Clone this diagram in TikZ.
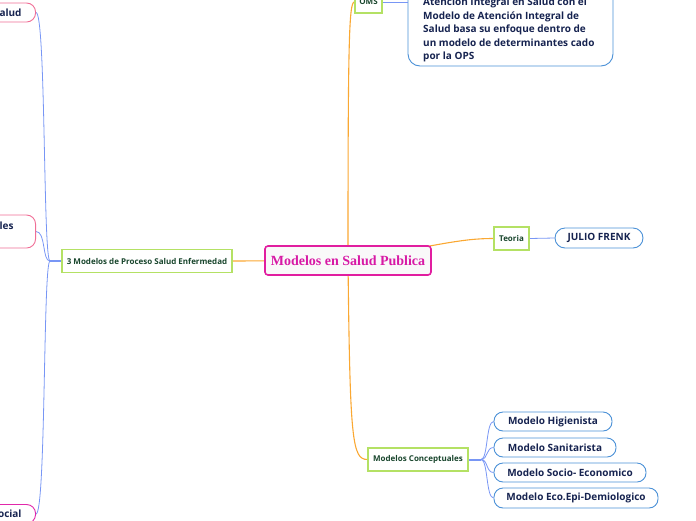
\documentclass[tikz,border=0pt]{standalone}
\usepackage{fontspec}
\setmainfont{Open Sans}
\newfontfamily\serifb{Liberation Serif}
\usetikzlibrary{fit,backgrounds}
\definecolor{orangeL}{RGB}{250,168,50}
\definecolor{blueL}{RGB}{120,150,245}
\definecolor{blueB}{RGB}{75,145,215}
\definecolor{navyT}{RGB}{22,35,80}
\definecolor{greenB}{RGB}{180,225,100}
\definecolor{greenT}{RGB}{25,70,45}
\definecolor{pinkB}{RGB}{240,110,150}
\definecolor{magB}{RGB}{225,40,170}
\definecolor{mainB}{RGB}{225,30,160}
\definecolor{mainT}{RGB}{215,25,165}
\definecolor{mainF}{RGB}{249,249,249}
\tikzset{
  mainnode/.style={draw=mainB, line width=1.6pt, rounded corners=3pt, fill=mainF, text=mainT,
    font=\serifb\bfseries\fontsize{14}{16}\selectfont, minimum width=166pt, minimum height=29pt, inner sep=0pt},
  greenbox/.style={draw=greenB, line width=1.1pt, fill=white, text=greenT,
    font=\bfseries\fontsize{8}{9.5}\selectfont, minimum height=23pt, inner sep=0pt},
  bluebox/.style={draw=blueB, line width=0.9pt, rounded corners=9pt, fill=white, text=navyT,
    font=\bfseries\fontsize{10}{12}\selectfont, minimum height=19pt, inner sep=0pt},
  pinkbox/.style={draw=pinkB, line width=0.9pt, rounded corners=9pt, fill=white, text=navyT,
    font=\bfseries\fontsize{10}{12}\selectfont, minimum height=19pt, inner xsep=14pt, inner ysep=0pt,
    text width=70pt, align=right, anchor=east},
  oline/.style={draw=orangeL, line width=1.1pt},
  bline/.style={draw=blueL, line width=0.8pt},
}
\begin{document}
\begin{tikzpicture}[x=1pt,y=-1pt]
\useasboundingbox (0,0) rectangle (696,520);
% central
\node[mainnode] (main) at (348,260.5) {Modelos en Salud Publica};
% left branch
\node[greenbox, minimum width=170pt] (lp) at (147,261) {3 Modelos de Proceso Salud Enfermedad};
\coordinate (J) at (50,261);
\node[pinkbox] (alud) at (36,12.5) {alud};
\node[pinkbox, minimum height=33pt, inner xsep=22pt] (les) at (36,231.5) {les\\\mbox{}};
\node[pinkbox, draw=magB] (ocial) at (36,514) {ocial};
% top branch
\node[greenbox, minimum width=27pt, minimum height=22pt] (oms) at (368.5,2) {OMS};
\node[text=navyT, font=\bfseries\fontsize{10}{13.5}\selectfont, align=left, inner sep=0pt, anchor=south west]
  (omstxt) at (423,62.5) {Atención Integral en Salud con el\\Modelo de Atención Integral de\\Salud basa su enfoque dentro de\\un modelo de determinantes cado\\por la OPS};
\coordinate (bbtl) at (408,-62);
\coordinate (bbbr) at (613,66);
\begin{scope}[on background layer]
\node[draw=blueB, line width=0.9pt, rounded corners=12pt, fill=white, inner sep=0pt, fit=(bbtl)(bbbr)] (omsbox) {};
\end{scope}
% right branch
\node[greenbox, minimum width=35pt] (teo) at (511.5,238.5) {Teoria};
\node[bluebox, minimum width=88pt, minimum height=20pt, rounded corners=10pt] (julio) at (599,238) {JULIO FRENK};
% bottom branch
\node[greenbox, minimum width=100pt] (mc) at (418,459.5) {Modelos Conceptuales};
\coordinate (K) at (481,459.5);
\node[bluebox, minimum width=118pt] (m1) at (553,421.5) {Modelo Higienista};
\node[bluebox, minimum width=122pt] (m2) at (555,447.5) {Modelo Sanitarista};
\node[bluebox, minimum width=152pt] (m3) at (570,472.5) {Modelo Socio- Economico};
\node[bluebox, minimum width=164pt, minimum height=20pt] (m4) at (576,498) {Modelo Eco.Epi-Demiologico};
% connectors
\begin{scope}[on background layer]
\draw[oline] (main.center) -- (lp.east);
\draw[oline] (main.center) .. controls (348,40) and (349,2) .. (oms.west);
\draw[oline] (main.center) .. controls (440,245) and (460,238.5) .. (teo.west);
\draw[oline] (main.center) .. controls (350,440) and (352,459.5) .. (mc.west);
\draw[bline, line width=1.4pt] (lp.west) -- (J);
\draw[bline] (alud.east) .. controls (46,12.5) and (43,261) .. (J);
\draw[bline] (les.east) .. controls (46,231.5) and (42,261) .. (J);
\draw[bline] (ocial.east) .. controls (46,514) and (43,261) .. (J);
\draw[bline] (oms.east) -- (omsbox.west);
\draw[bline] (teo.east) -- (julio.west);
\draw[bline, line width=2pt] (mc.east) -- (K);
\draw[bline] (K) .. controls (488,459.5) and (486,421.5) .. (m1.west);
\draw[bline] (K) .. controls (488,459.5) and (486,447.5) .. (m2.west);
\draw[bline] (K) .. controls (488,459.5) and (486,472.5) .. (m3.west);
\draw[bline] (K) .. controls (488,459.5) and (486,498) .. (m4.west);
\end{scope}
\end{tikzpicture}
\end{document}
